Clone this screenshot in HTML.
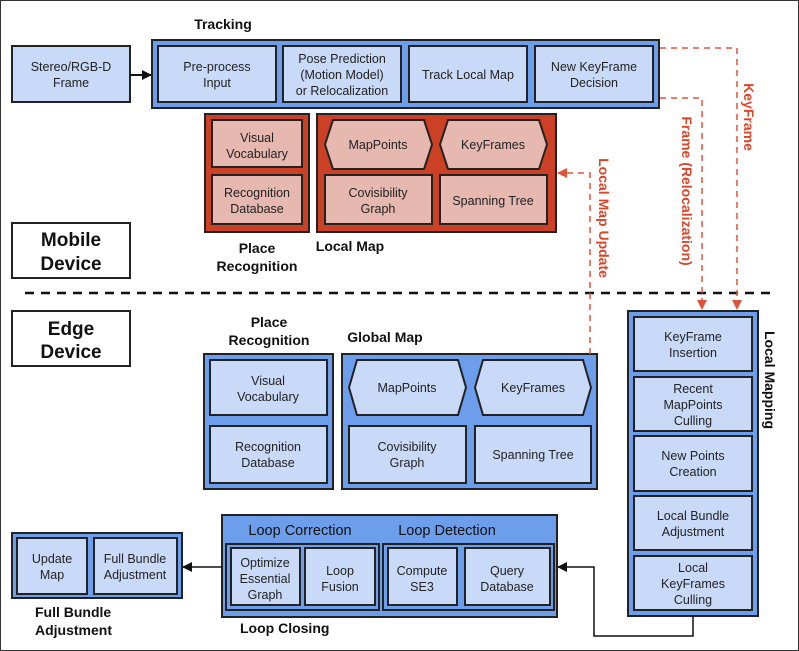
<!DOCTYPE html>
<html><head><meta charset="utf-8"><style>
html,body{margin:0;padding:0;background:#fff}
svg{display:block}
text{font-family:"Liberation Sans",Arial,sans-serif;fill:#222;text-anchor:middle}
.n{font-size:12.5px}
.b{font-weight:bold;font-size:14px;fill:#111}
.h{font-weight:bold;font-size:19px;fill:#111}
.r{font-weight:bold;font-size:14px;fill:#d9472b}
.s{font-size:14.5px;fill:#111}
</style></head><body>
<svg width="799" height="651" viewBox="0 0 799 651" xmlns="http://www.w3.org/2000/svg">
<defs>
<marker id="ab" markerWidth="10" markerHeight="10" refX="9" refY="5" orient="auto" markerUnits="userSpaceOnUse"><path d="M0,0 L10,5 L0,10 z" fill="#111"/></marker>
<marker id="ar" markerWidth="10" markerHeight="10" refX="9" refY="5" orient="auto" markerUnits="userSpaceOnUse"><path d="M0,0 L10,5 L0,10 z" fill="#e0533a"/></marker>
</defs>
<rect x="0.5" y="0.5" width="798" height="650" fill="#fff" stroke="#333" stroke-width="1"/>
<g stroke="#222" stroke-width="2">
<!-- Tracking -->
<rect x="12" y="46" width="118" height="56" fill="#c9daf8"/>
<rect x="152" y="40" width="507" height="68" fill="#6d9eeb"/>
<rect x="158" y="46" width="118" height="56" fill="#c9daf8"/>
<rect x="283" y="46" width="118" height="56" fill="#c9daf8"/>
<rect x="409" y="46" width="118" height="56" fill="#c9daf8"/>
<rect x="535" y="46" width="118" height="56" fill="#c9daf8"/>
<!-- mobile place recog -->
<rect x="205" y="114" width="104" height="118" fill="#cc4125"/>
<rect x="212" y="120" width="90" height="47" fill="#e6b8af"/>
<rect x="212" y="175" width="90" height="49" fill="#e6b8af"/>
<rect x="317" y="114" width="239" height="118" fill="#cc4125"/>
<polygon points="333,120 424,120 432,144.5 424,169 333,169 325,144.5" fill="#e6b8af"/>
<polygon points="448,120 539,120 547,144.5 539,169 448,169 440,144.5" fill="#e6b8af"/>
<rect x="325" y="175" width="107" height="49" fill="#e6b8af"/>
<rect x="440" y="175" width="107" height="49" fill="#e6b8af"/>
<!-- device boxes -->
<rect x="12" y="223" width="118" height="55" fill="#fff"/>
<rect x="12" y="311" width="118" height="55" fill="#fff"/>
<!-- edge place recog -->
<rect x="204" y="354" width="129" height="135" fill="#6d9eeb"/>
<rect x="210" y="360" width="117" height="55" fill="#c9daf8"/>
<rect x="210" y="426" width="117" height="57" fill="#c9daf8"/>
<rect x="342" y="354" width="255" height="135" fill="#6d9eeb"/>
<polygon points="357,360 458,360 466,387.5 458,415 357,415 349,387.5" fill="#c9daf8"/>
<polygon points="483,360 583,360 591,387.5 583,415 483,415 475,387.5" fill="#c9daf8"/>
<rect x="349" y="426" width="117" height="57" fill="#c9daf8"/>
<rect x="475" y="426" width="116" height="57" fill="#c9daf8"/>
<!-- local mapping -->
<rect x="628" y="311" width="130" height="305" fill="#6d9eeb"/>
<rect x="634" y="317" width="118" height="54" fill="#c9daf8"/>
<rect x="634" y="377" width="118" height="54" fill="#c9daf8"/>
<rect x="634" y="436" width="118" height="55" fill="#c9daf8"/>
<rect x="634" y="496" width="118" height="54" fill="#c9daf8"/>
<rect x="634" y="556" width="118" height="54" fill="#c9daf8"/>
<!-- loop closing -->
<rect x="222" y="515" width="335" height="102" fill="#6d9eeb"/>
<rect x="226" y="544" width="153" height="66" fill="#6d9eeb"/>
<rect x="383" y="544" width="171" height="66" fill="#6d9eeb"/>
<rect x="231" y="548" width="69" height="57" fill="#c9daf8"/>
<rect x="305" y="548" width="70" height="57" fill="#c9daf8"/>
<rect x="388" y="548" width="69" height="57" fill="#c9daf8"/>
<rect x="465" y="548" width="85" height="57" fill="#c9daf8"/>
<!-- full BA -->
<rect x="12" y="533" width="170" height="65" fill="#6d9eeb"/>
<rect x="17" y="538" width="70" height="56" fill="#c9daf8"/>
<rect x="94" y="538" width="83" height="56" fill="#c9daf8"/>
</g>
<!-- black connectors -->
<line x1="130" y1="75" x2="151" y2="75" stroke="#111" stroke-width="2" marker-end="url(#ab)"/>
<line x1="222" y1="567" x2="183" y2="567" stroke="#111" stroke-width="1.5" marker-end="url(#ab)"/>
<polyline points="693,616 693,636 594,636 594,567 558,567" fill="none" stroke="#111" stroke-width="1.5" marker-end="url(#ab)"/>
<line x1="25" y1="293" x2="777" y2="293" stroke="#111" stroke-width="2.5" stroke-dasharray="9,7"/>
<!-- red dashed -->
<g fill="none" stroke="#e0533a" stroke-width="1.5" stroke-dasharray="6,5">
<polyline points="660,48 737,48 737,309" marker-end="url(#ar)"/>
<polyline points="660,98 702,98 702,309" marker-end="url(#ar)"/>
<polyline points="590,354 590,173 558,173" marker-end="url(#ar)"/>
</g>
<!-- text -->
<text class="b" x="223" y="29">Tracking</text>
<text class="n" x="71" y="71">Stereo/RGB-D</text><text class="n" x="71" y="87">Frame</text>
<text class="n" x="217" y="71">Pre-process</text><text class="n" x="217" y="87">Input</text>
<text class="n" x="342" y="63">Pose Prediction</text><text class="n" x="342" y="79">(Motion Model)</text><text class="n" x="342" y="95">or Relocalization</text>
<text class="n" x="468" y="79">Track Local Map</text>
<text class="n" x="594" y="71">New KeyFrame</text><text class="n" x="594" y="87">Decision</text>
<text class="n" x="257" y="142">Visual</text><text class="n" x="257" y="158">Vocabulary</text>
<text class="n" x="257" y="197">Recognition</text><text class="n" x="257" y="213">Database</text>
<text class="n" x="378" y="149">MapPoints</text>
<text class="n" x="493" y="149">KeyFrames</text>
<text class="n" x="378" y="197">Covisibility</text><text class="n" x="378" y="213">Graph</text>
<text class="n" x="493" y="205">Spanning Tree</text>
<text class="b" x="257" y="253">Place</text><text class="b" x="257" y="271">Recognition</text>
<text class="b" x="350" y="251">Local Map</text>
<text class="h" x="71" y="246">Mobile</text><text class="h" x="71" y="270">Device</text>
<text class="h" x="71" y="335">Edge</text><text class="h" x="71" y="358">Device</text>
<text class="b" x="269" y="327">Place</text><text class="b" x="269" y="345">Recognition</text>
<text class="b" x="385" y="342">Global Map</text>
<text class="n" x="268" y="385">Visual</text><text class="n" x="268" y="401">Vocabulary</text>
<text class="n" x="268" y="451">Recognition</text><text class="n" x="268" y="467">Database</text>
<text class="n" x="407" y="392">MapPoints</text>
<text class="n" x="533" y="392">KeyFrames</text>
<text class="n" x="407" y="451">Covisibility</text><text class="n" x="407" y="467">Graph</text>
<text class="n" x="533" y="459">Spanning Tree</text>
<text class="n" x="693" y="341">KeyFrame</text><text class="n" x="693" y="357">Insertion</text>
<text class="n" x="693" y="393">Recent</text><text class="n" x="693" y="409">MapPoints</text><text class="n" x="693" y="425">Culling</text>
<text class="n" x="693" y="460">New Points</text><text class="n" x="693" y="476">Creation</text>
<text class="n" x="693" y="520">Local Bundle</text><text class="n" x="693" y="536">Adjustment</text>
<text class="n" x="693" y="572">Local</text><text class="n" x="693" y="588">KeyFrames</text><text class="n" x="693" y="604">Culling</text>
<text class="b" transform="translate(765,380) rotate(90)">Local Mapping</text>
<text class="r" transform="translate(744,117) rotate(90)">KeyFrame</text>
<text class="r" transform="translate(682,191) rotate(90)">Frame (Relocalization)</text>
<text class="r" transform="translate(599,218) rotate(90)">Local Map Update</text>
<text class="s" x="300" y="535">Loop Correction</text>
<text class="s" x="447" y="535">Loop Detection</text>
<text class="n" x="265" y="567">Optimize</text><text class="n" x="265" y="583">Essential</text><text class="n" x="265" y="599">Graph</text>
<text class="n" x="340" y="575">Loop</text><text class="n" x="340" y="591">Fusion</text>
<text class="n" x="422" y="575">Compute</text><text class="n" x="422" y="591">SE3</text>
<text class="n" x="507" y="575">Query</text><text class="n" x="507" y="591">Database</text>
<text class="n" x="52" y="563">Update</text><text class="n" x="52" y="579">Map</text>
<text class="n" x="135" y="563">Full Bundle</text><text class="n" x="135" y="579">Adjustment</text>
<text class="b" x="35" y="617" style="text-anchor:start">Full Bundle</text>
<text class="b" x="35" y="635" style="text-anchor:start">Adjustment</text>
<text class="b" x="240" y="633" style="text-anchor:start">Loop Closing</text>
</svg>
</body></html>
